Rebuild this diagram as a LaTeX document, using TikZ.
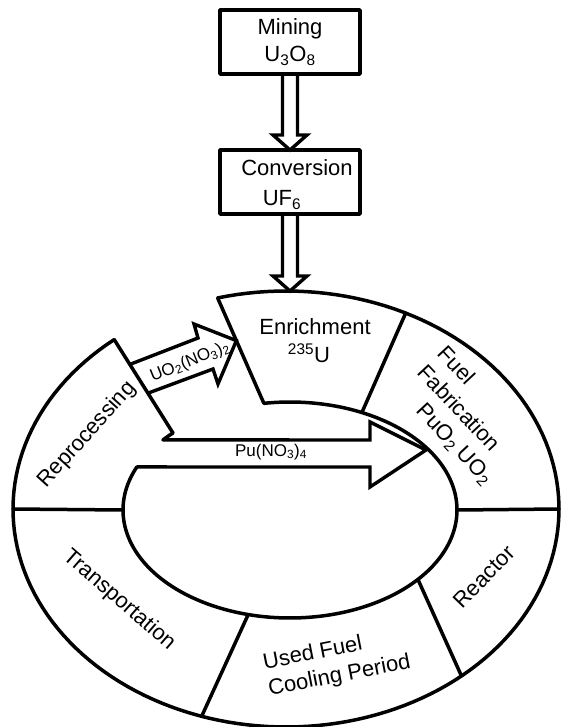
\documentclass[tikz,border=0pt]{standalone}
\usepackage{fontspec}
\setmainfont{Liberation Sans}
\usetikzlibrary{calc}

\tikzset{
  declare function={outx(\t)=286+273*cos(\t); outy(\t)=509+218*sin(\t);
                    inx(\t)=290+167*cos(\t);  iny(\t)=510+108*sin(\t);},
  box/.style={draw, line width=3.6pt, minimum width=140pt, minimum height=64pt, outer sep=0pt, align=center},
  hollow/.style={line width=3.4pt, line join=miter},
  small/.style={font=\fontsize{17}{20}\selectfont},
}

% hollow block arrow pointing down, from a node to a point
\newcommand{\hollowdown}[2]{%
  \draw[hollow] let \p1=(#1.south), \p2=(#2) in
    (\x1-7.5pt,\y1) -- (\x1-7.5pt,\y2+15pt) -- (\x1-17pt,\y2+15pt) -- (\x1,\y2)
    -- (\x1+17pt,\y2+15pt) -- (\x1+7.5pt,\y2+15pt) -- (\x1+7.5pt,\y1);}

\begin{document}
\begin{tikzpicture}[x=1pt, y=-1pt, line width=3.5pt, line cap=round, line join=round,
    every node/.style={font=\fontsize{22}{27}\selectfont, inner sep=0pt}]
  \useasboundingbox (0,0) rectangle (560,727);

  % Boxes on top
  \node[box] (mining) at (290,42) {Mining\\U\textsubscript{3}O\textsubscript{8}};
  \node[box] (conv) at (290,182) {};
  \node (convtxt) at (297,168) {Conversion};
  \node (uftxt) at (282,200) {UF\textsubscript{6}};

  % Corners of the ring segments
  \coordinate (enrtop) at ({outx(270)},{outy(270)});
  \coordinate (enrA) at ({outx(255.5)},{outy(255.5)});
  \coordinate (enrB) at ({inx(261)},{iny(261)});
  \coordinate (repA) at ({outx(231)},{outy(231)});
  \coordinate (repB) at ({inx(225.5)},{iny(225.5)});
  \coordinate (putop) at ({inx(220.5)},{iny(220.5)});
  \coordinate (pubot) at ({inx(203.5)},{iny(203.5)});

  % Vertical arrows
  \hollowdown{mining}{conv.north}
  \hollowdown{conv}{enrtop}

  % Ring
  \draw plot[domain=255.5:591, samples=160] ({outx(\x)},{outy(\x)});
  \draw plot[domain=261:563.5, samples=160] ({inx(\x)},{iny(\x)});
  \draw plot[domain=580.5:585.5, samples=6] ({inx(\x)},{iny(\x)});
  \draw (enrA) -- (enrB);
  \draw (repA) -- (repB);
  \foreach \a/\b in {180/180, 296/295.5, 0/0, 50/40, 108/104.5}
    \draw ({outx(\a)},{outy(\a)}) -- ({inx(\b)},{iny(\b)});

  % Recycling arrows
  \draw[hollow] ($(repA)!0.266!(repB)$) -- (198,338) -- (194,324) -- ($(enrA)!0.405!(enrB)$)
    -- (218,384) -- (213,369) -- ($(repA)!0.574!(repB)$);
  \draw[hollow] (putop) -- (370,440) -- (370,422) -- (426,450) -- (370,487) -- (370,467) -- (pubot);
  \node[small, rotate=22] (uo) at (190,362) {UO\textsubscript{2}(NO\textsubscript{3})\textsubscript{2}};
  \node[small] (pu) at (271,452) {Pu(NO\textsubscript{3})\textsubscript{4}};

  % Segment labels
  \node (enrich) at (315,327) {Enrichment};
  \node (u235) at (309,353) {\textsuperscript{235}U};
  \node[rotate=-47, align=left] (fab) at (465,416)
    {Fuel\\Fabrication\\\hspace*{27pt}PuO\textsubscript{2} UO\textsubscript{2}};
  \node[rotate=46] (reactor) at (484,577) {Reactor};
  \node[rotate=11, align=left] (used) at (337,663) {Used Fuel\\Cooling Period};
  \node[rotate=-41] (transp) at (119,600) {Transportation};
  \node[rotate=48] (reproc) at (87,435) {Reprocessing};
\end{tikzpicture}
\end{document}
